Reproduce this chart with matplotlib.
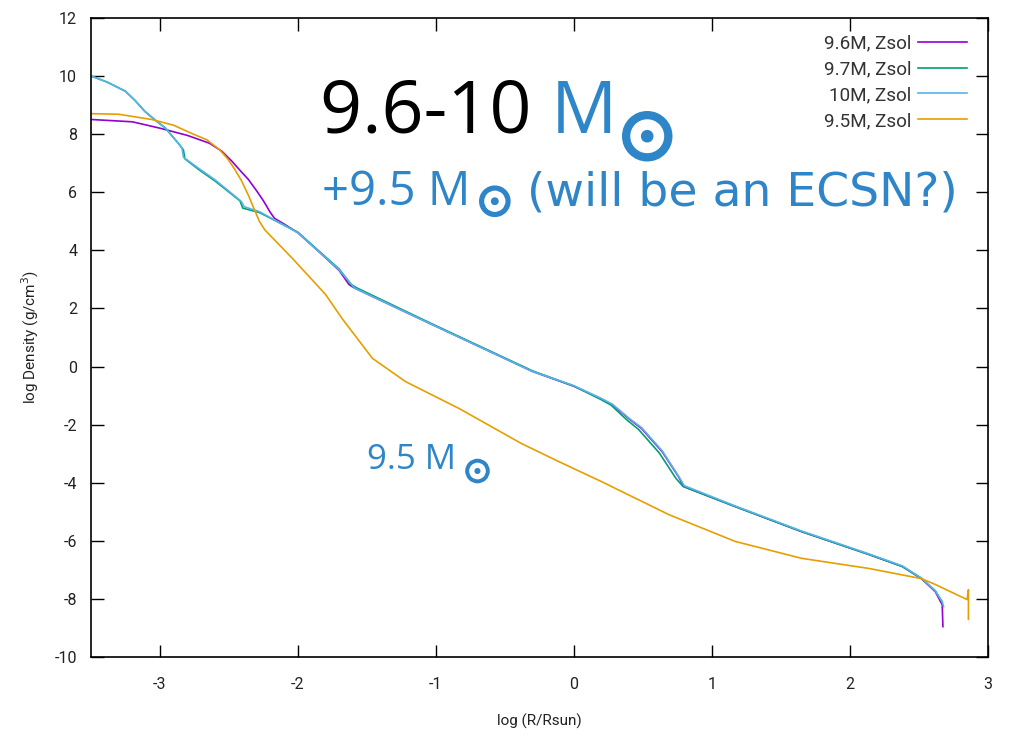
import numpy as np
import matplotlib
matplotlib.use("Agg")
import matplotlib.pyplot as plt
import matplotlib.patheffects as pe

plt.rcParams['font.family'] = ['Roboto', 'DejaVu Sans']
plt.rcParams['mathtext.fontset'] = 'dejavusans'
plt.rcParams['axes.unicode_minus'] = False

# 9.6M, Zsol
x96 = [-3.5, -3.2, -3.0, -2.8, -2.64, -2.55, -2.48, -2.42, -2.36, -2.30, -2.25, -2.20, -2.17, -2.10, -2.0,
       -1.85, -1.70, -1.63, -1.59, -1.03, -0.30, 0.0, 0.2, 0.28, 0.40, 0.49, 0.64, 0.76, 0.795, 1.17, 1.65,
       2.14, 2.38, 2.52, 2.62, 2.67, 2.675]
y96 = [8.5, 8.42, 8.2, 7.95, 7.68, 7.4, 7.07, 6.75, 6.44, 6.05, 5.7, 5.3, 5.1, 4.9, 4.6,
       3.96, 3.3, 2.82, 2.7, 1.45, -0.17, -0.68, -1.12, -1.32, -1.8, -2.13, -2.93, -3.8, -4.13, -4.82, -5.68,
       -6.47, -6.88, -7.3, -7.75, -8.2, -8.95]

# 9.7M, Zsol
x97 = [-3.5, -3.38, -3.25, -3.18, -3.11, -3.04, -2.96, -2.86, -2.83, -2.82, -2.72, -2.60, -2.42, -2.40,
       -2.28, -2.0, -1.85, -1.70, -1.62, -1.58, -1.03, -0.30, 0.0, 0.19, 0.27, 0.38, 0.47, 0.62, 0.74, 0.79,
       1.17, 1.65, 2.14, 2.38, 2.52, 2.62, 2.67]
y97 = [10.0, 9.78, 9.47, 9.15, 8.78, 8.5, 8.2, 7.64, 7.45, 7.15, 6.78, 6.38, 5.7, 5.45,
       5.3, 4.62, 3.98, 3.35, 2.85, 2.72, 1.47, -0.15, -0.67, -1.12, -1.33, -1.82, -2.17, -2.98, -3.85, -4.12,
       -4.82, -5.68, -6.47, -6.88, -7.3, -7.72, -8.1]

# 10M, Zsol
x10 = [-3.5, -3.38, -3.25, -3.18, -3.11, -3.04, -2.96, -2.86, -2.84, -2.83, -2.72, -2.60, -2.41, -2.39,
       -2.28, -2.0, -1.85, -1.70, -1.61, -1.59, -1.03, -0.30, 0.0, 0.2, 0.28, 0.40, 0.49, 0.64, 0.76, 0.80,
       1.17, 1.65, 2.14, 2.38, 2.52, 2.62, 2.67, 2.68]
y10 = [10.0, 9.78, 9.47, 9.15, 8.78, 8.5, 8.2, 7.64, 7.5, 7.2, 6.82, 6.42, 5.68, 5.5,
       5.33, 4.6, 3.96, 3.32, 2.82, 2.7, 1.45, -0.17, -0.66, -1.1, -1.3, -1.78, -2.1, -2.9, -3.78, -4.1,
       -4.8, -5.66, -6.45, -6.86, -7.28, -7.72, -8.1, -8.26]

# 9.5M, Zsol
x95 = [-3.5, -3.3, -3.06, -2.9, -2.77, -2.66, -2.57, -2.51, -2.46, -2.41, -2.36, -2.32, -2.28, -2.24,
       -2.04, -1.80, -1.68, -1.46, -1.22, -0.83, -0.38, -0.11, 0.2, 0.69, 1.17, 1.65, 2.14, 2.52, 2.62,
       2.85, 2.86, 2.86]
y95 = [8.7, 8.68, 8.5, 8.3, 8.02, 7.8, 7.47, 7.15, 6.8, 6.4, 5.9, 5.45, 5.0, 4.7,
       3.72, 2.48, 1.65, 0.28, -0.52, -1.45, -2.65, -3.27, -3.96, -5.1, -6.02, -6.6, -6.95, -7.3, -7.5,
       -8.02, -7.68, -8.7]

series = [
    (x96, y96, '#9400d3', '9.6M, Zsol'),
    (x97, y97, '#009e73', '9.7M, Zsol'),
    (x10, y10, '#56b4e9', '10M, Zsol'),
    (x95, y95, '#e69f00', '9.5M, Zsol'),
]

fig = plt.figure(figsize=(10.11, 7.40), dpi=100)
ax = fig.add_axes([0.09, 0.112, 0.887, 0.864])

for x, y, c, lab in series:
    ax.plot(x, y, color=c, lw=1.2, label=lab)

ax.set_xlim(-3.5, 3)
ax.set_ylim(-10, 12)
ax.set_xticks(range(-3, 4))
ax.set_yticks(range(-10, 13, 2))
ax.tick_params(direction='in', length=9, width=1, top=True, right=True,
               labelsize=11.5, pad=14, labelcolor='#222222')
ax.tick_params(axis='y', pad=10)
for s in ax.spines.values():
    s.set_linewidth(1.2)

ax.set_xlabel('log (R/Rsun)', fontsize=11, labelpad=16, color='#222222')
ax.set_ylabel(r'log Density (g/cm$^3$)', fontsize=11, labelpad=10, color='#222222')

leg = ax.legend(loc='upper right', frameon=False, markerfirst=False, fontsize=13.6,
                handlelength=2.6, handletextpad=0.38, labelspacing=0.42, borderaxespad=0.3,
                bbox_to_anchor=(0.992, 0.995))
for t in leg.get_texts():
    t.set_color('#333333')

# annotation texts, pieces chained left to right on one baseline
blue = '#2e86c8'
fig.canvas.draw()
renderer = fig.canvas.get_renderer()


def chain(x0, y0, pieces):
    x = x0
    for s, size, color, fam, dx, dy, stroke in pieces:
        t = ax.text(x + dx, y0 + dy, s, transform=ax.transAxes, fontsize=size, color=color,
                    family=fam, va='baseline', ha='left', math_fontfamily='stix')
        if stroke:
            t.set_path_effects([pe.withStroke(linewidth=stroke, foreground=color,
                                              joinstyle='round', capstyle='round')])
        bb = t.get_window_extent(renderer)
        x = ax.transAxes.inverted().transform((bb.x1, bb.y0))[0]


sun = r'$\odot$'
chain(0.255, 0.82, [
    ('9.6-10 ', 53, 'black', 'Open Sans', 0, 0, 0),
    ('M', 53, blue, 'Open Sans', 0, 0, 0),
    (sun, 51, blue, 'Open Sans', 0.004, -0.034, 2.6),
])
chain(0.258, 0.707, [
    ('+9.5 M', 34, blue, 'Open Sans', 0, 0, 0),
    (sun, 32, blue, 'Open Sans', 0.008, -0.012, 1.6),
    (' (will be an ECSN?)', 34, blue, 'DejaVu Sans', 0, 0, 0),
])
chain(0.308, 0.295, [
    ('9.5 M', 25, blue, 'Open Sans', 0, 0, 0),
    (sun, 25, blue, 'Open Sans', 0.009, -0.018, 1.2),
])

fig.savefig('out.png', dpi=100)
